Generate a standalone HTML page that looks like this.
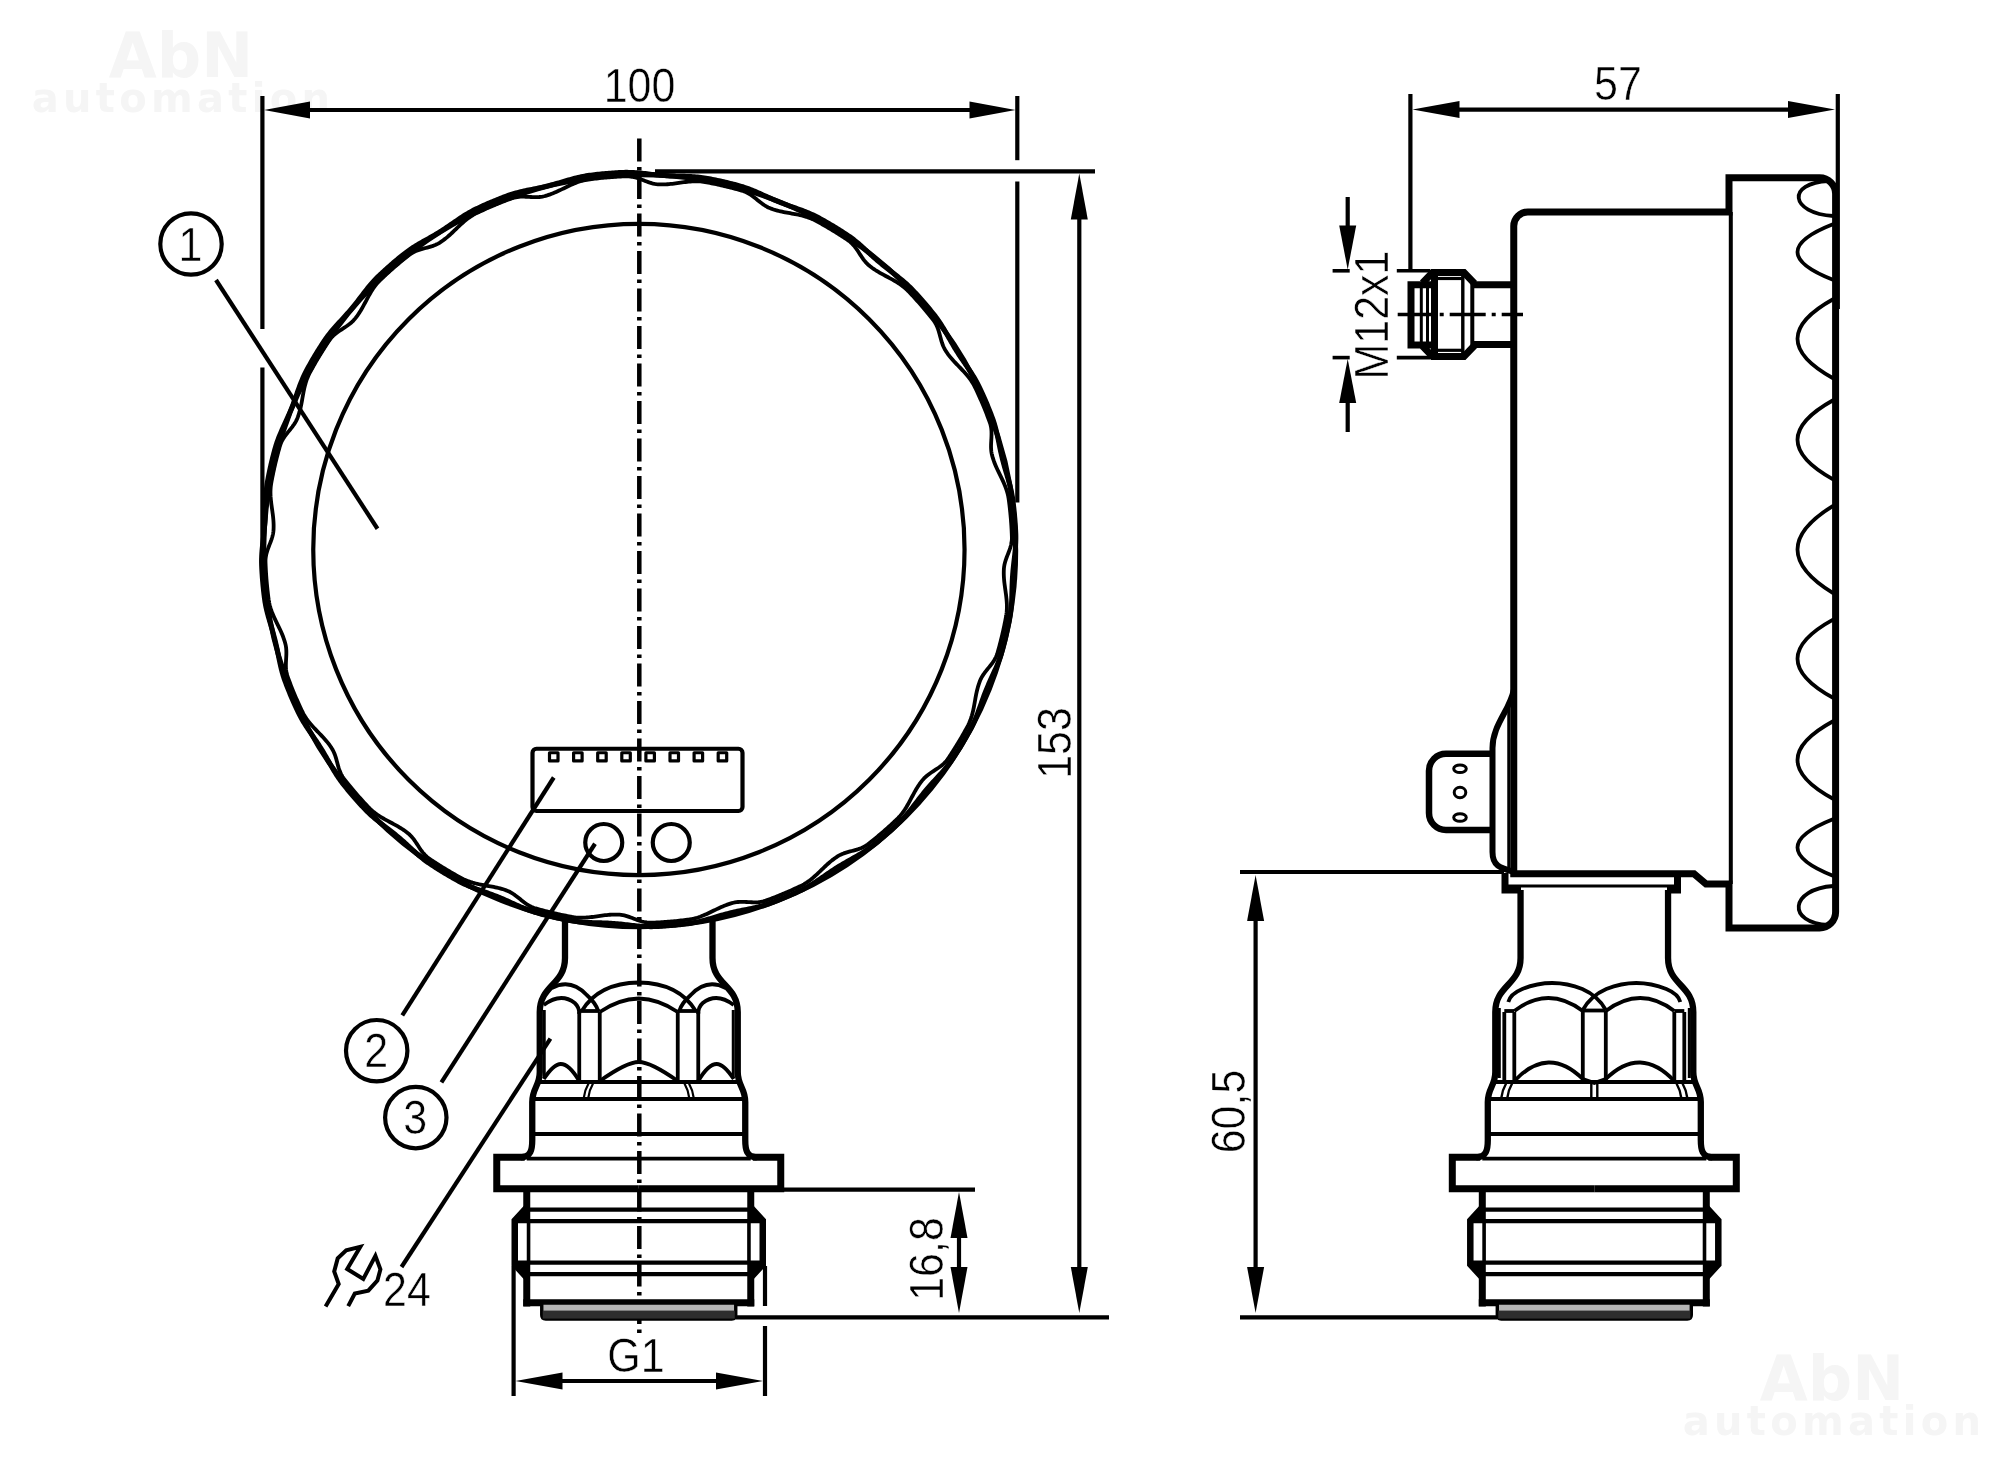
<!DOCTYPE html>
<html><head><meta charset="utf-8"><title>Drawing</title>
<style>
html,body{margin:0;padding:0;background:#fff;}
body{width:2000px;height:1463px;overflow:hidden;}
svg{display:block;font-family:"Liberation Sans",sans-serif;filter:grayscale(1) blur(0.55px);}
</style></head><body>
<svg width="2000" height="1463" viewBox="0 0 2000 1463" fill="none" stroke="#000" stroke-linecap="butt" stroke-linejoin="round">
<rect x="0" y="0" width="2000" height="1463" fill="#fff" stroke="none"/>
<text x="181" y="77" font-size="62" font-weight="bold" font-family="DejaVu Sans, sans-serif" text-anchor="middle" fill="#f5f5f5" stroke="none">AbN</text>
<text x="183" y="112" font-size="40" font-weight="bold" font-family="DejaVu Sans, sans-serif" text-anchor="middle" fill="#f5f5f5" stroke="none" letter-spacing="4.3">automation</text>
<text x="1832" y="1400" font-size="62" font-weight="bold" font-family="DejaVu Sans, sans-serif" text-anchor="middle" fill="#f5f5f5" stroke="none">AbN</text>
<text x="1834" y="1435" font-size="40" font-weight="bold" font-family="DejaVu Sans, sans-serif" text-anchor="middle" fill="#f5f5f5" stroke="none" letter-spacing="4.3">automation</text>
<line x1="639.30" y1="138.40" x2="639.30" y2="1338.00" stroke-width="4.5" stroke-dasharray="23 5.5 3.5 5.5"/>
<circle cx="638.90" cy="549.50" r="325.65" stroke-width="4.2" />
<circle cx="639.70" cy="550.80" r="376.00" stroke-width="5.0" />
<path d="M638.70,172.94 L640.34,173.09 L641.98,173.26 L643.62,173.43 L645.26,173.61 L646.90,173.80 L648.53,173.99 L650.17,174.18 L651.80,174.37 L653.43,174.55 L655.06,174.73 L656.69,174.90 L658.32,175.06 L659.95,175.22 L661.58,175.36 L663.21,175.49 L664.84,175.61 L666.48,175.72 L668.11,175.82 L669.74,175.90 L671.38,175.98 L673.02,176.04 L674.65,176.10 L676.29,176.15 L677.94,176.19 L679.58,176.24 L681.22,176.28 L682.87,176.32 L684.52,176.36 L686.16,176.41 L687.81,176.46 L689.46,176.53 L691.11,176.60 L692.75,176.69 L694.40,176.80 L696.04,176.93 L697.69,177.07 L699.33,177.23 L700.96,177.42 L702.60,177.63 L704.23,177.87 L705.85,178.13 L707.48,178.42 L709.09,178.72 L710.71,179.03 L712.33,179.35 L713.94,179.68 L715.55,180.01 L717.17,180.35 L718.78,180.69 L720.38,181.05 L721.99,181.41 L723.60,181.77 L725.20,182.15 L726.80,182.53 L728.40,182.92 L730.00,183.31 L731.60,183.71 L733.19,184.12 L734.79,184.54 L736.38,184.96 L737.97,185.39 L739.56,185.83 L741.14,186.28 L742.72,186.76 L744.28,187.26 L745.85,187.78 L747.40,188.33 L748.95,188.90 L750.48,189.49 L752.02,190.10 L753.54,190.73 L755.06,191.37 L756.58,192.02 L758.09,192.69 L759.59,193.36 L761.10,194.04 L762.59,194.72 L764.09,195.41 L765.59,196.09 L767.08,196.78 L768.58,197.46 L770.07,198.13 L771.57,198.80 L773.07,199.46 L774.57,200.10 L776.08,200.74 L777.59,201.37 L779.10,201.99 L780.62,202.60 L782.14,203.20 L783.67,203.78 L785.20,204.36 L786.74,204.93 L788.28,205.49 L789.83,206.04 L791.37,206.59 L792.92,207.14 L794.47,207.68 L796.03,208.23 L797.58,208.78 L799.13,209.33 L800.68,209.90 L802.23,210.47 L803.77,211.05 L805.31,211.64 L806.84,212.25 L808.37,212.88 L809.89,213.53 L811.40,214.19 L812.90,214.87 L814.38,215.58 L815.86,216.31 L817.33,217.06 L818.78,217.83 L820.23,218.62 L821.67,219.42 L823.11,220.22 L824.54,221.03 L825.97,221.84 L827.40,222.66 L828.82,223.49 L830.24,224.32 L831.66,225.16 L833.08,226.01 L834.49,226.86 L835.89,227.71 L837.29,228.58 L838.69,229.45 L840.09,230.32 L841.48,231.20 L842.86,232.09 L844.25,232.99 L845.63,233.89 L847.00,234.79 L848.37,235.71 L849.72,236.65 L851.06,237.61 L852.38,238.60 L853.69,239.60 L854.98,240.62 L856.26,241.66 L857.53,242.71 L858.79,243.78 L860.04,244.86 L861.28,245.95 L862.51,247.04 L863.73,248.15 L864.95,249.26 L866.16,250.37 L867.37,251.49 L868.59,252.60 L869.80,253.71 L871.01,254.82 L872.22,255.92 L873.44,257.02 L874.66,258.11 L875.89,259.19 L877.13,260.27 L878.37,261.33 L879.62,262.39 L880.87,263.43 L882.14,264.47 L883.41,265.50 L884.69,266.52 L885.97,267.54 L887.27,268.55 L888.56,269.55 L889.87,270.55 L891.17,271.55 L892.48,272.55 L893.79,273.55 L895.09,274.55 L896.40,275.56 L897.70,276.57 L898.99,277.59 L900.28,278.62 L901.56,279.67 L902.83,280.72 L904.09,281.79 L905.33,282.87 L906.56,283.97 L907.77,285.08 L908.97,286.21 L910.15,287.36 L911.31,288.53 L912.46,289.71 L913.59,290.91 L914.71,292.11 L915.83,293.32 L916.95,294.53 L918.06,295.75 L919.16,296.97 L920.26,298.20 L921.36,299.43 L922.44,300.66 L923.53,301.90 L924.61,303.15 L925.68,304.40 L926.74,305.65 L927.81,306.91 L928.86,308.18 L929.91,309.44 L930.96,310.72 L931.99,311.99 L933.03,313.28 L934.06,314.56 L935.07,315.86 L936.07,317.17 L937.04,318.50 L937.99,319.84 L938.93,321.20 L939.84,322.57 L940.74,323.95 L941.62,325.35 L942.49,326.75 L943.34,328.16 L944.19,329.58 L945.02,331.01 L945.84,332.44 L946.65,333.87 L947.47,335.30 L948.27,336.74 L949.08,338.17 L949.89,339.60 L950.70,341.03 L951.51,342.45 L952.33,343.87 L953.16,345.29 L953.99,346.70 L954.83,348.10 L955.69,349.50 L956.55,350.89 L957.42,352.27 L958.30,353.65 L959.19,355.02 L960.09,356.39 L961.00,357.75 L961.92,359.11 L962.84,360.46 L963.77,361.82 L964.71,363.17 L965.64,364.53 L966.57,365.88 L967.51,367.24 L968.44,368.60 L969.36,369.97 L970.28,371.34 L971.18,372.72 L972.08,374.10 L972.96,375.50 L973.83,376.90 L974.67,378.31 L975.50,379.74 L976.31,381.17 L977.10,382.62 L977.87,384.08 L978.61,385.54 L979.34,387.03 L980.04,388.51 L980.74,390.00 L981.43,391.50 L982.12,392.99 L982.80,394.49 L983.47,396.00 L984.14,397.50 L984.80,399.01 L985.45,400.52 L986.10,402.04 L986.74,403.56 L987.37,405.08 L988.00,406.60 L988.62,408.12 L989.23,409.65 L989.84,411.18 L990.44,412.72 L991.03,414.25 L991.62,415.79 L992.20,417.33 L992.76,418.88 L993.30,420.43 L993.82,422.00 L994.31,423.57 L994.78,425.15 L995.23,426.74 L995.66,428.33 L996.06,429.93 L996.46,431.53 L996.83,433.14 L997.19,434.75 L997.54,436.36 L997.88,437.97 L998.22,439.58 L998.54,441.20 L998.87,442.81 L999.19,444.43 L999.52,446.04 L999.85,447.65 L1000.18,449.25 L1000.52,450.86 L1000.87,452.46 L1001.23,454.05 L1001.60,455.65 L1001.98,457.24 L1002.37,458.83 L1002.77,460.41 L1003.18,462.00 L1003.60,463.58 L1004.04,465.15 L1004.48,466.73 L1004.93,468.31 L1005.39,469.88 L1005.86,471.46 L1006.33,473.03 L1006.80,474.61 L1007.27,476.19 L1007.74,477.77 L1008.20,479.35 L1008.66,480.93 L1009.10,482.52 L1009.54,484.11 L1009.96,485.71 L1010.37,487.30 L1010.76,488.91 L1011.13,490.51 L1011.48,492.12 L1011.81,493.74 L1012.11,495.36 L1012.39,496.98 L1012.64,498.61 L1012.87,500.24 L1013.08,501.87 L1013.29,503.51 L1013.48,505.14 L1013.67,506.78 L1013.86,508.41 L1014.03,510.05 L1014.20,511.69 L1014.36,513.33 L1014.52,514.97 L1014.66,516.61 L1014.80,518.25 L1014.94,519.89 L1015.06,521.53 L1015.18,523.17 L1015.29,524.82 L1015.40,526.46 L1015.49,528.10 L1015.58,529.75 L1015.67,531.39 L1015.74,533.04 L1015.80,534.68 L1015.83,536.33 L1015.84,537.98 L1015.82,539.62 L1015.78,541.27 L1015.72,542.92 L1015.63,544.57 L1015.52,546.21 L1015.40,547.86 L1015.26,549.50 L1015.11,551.14 L1014.94,552.78 L1014.77,554.42 L1014.59,556.06 L1014.40,557.70 L1014.21,559.33 L1014.02,560.97 L1013.83,562.60 L1013.65,564.23 L1013.47,565.86 L1013.30,567.49 L1013.14,569.12 L1012.98,570.75 L1012.84,572.38 L1012.71,574.01 L1012.59,575.64 L1012.48,577.28 L1012.38,578.91 L1012.30,580.54 L1012.22,582.18 L1012.16,583.82 L1012.10,585.45 L1012.05,587.09 L1012.01,588.74 L1011.96,590.38 L1011.92,592.02 L1011.88,593.67 L1011.84,595.32 L1011.79,596.96 L1011.74,598.61 L1011.67,600.26 L1011.60,601.91 L1011.51,603.55 L1011.40,605.20 L1011.27,606.84 L1011.13,608.49 L1010.97,610.13 L1010.78,611.76 L1010.57,613.40 L1010.33,615.03 L1010.07,616.65 L1009.78,618.28 L1009.48,619.89 L1009.17,621.51 L1008.85,623.13 L1008.52,624.74 L1008.19,626.35 L1007.85,627.97 L1007.51,629.58 L1007.15,631.18 L1006.79,632.79 L1006.43,634.40 L1006.05,636.00 L1005.67,637.60 L1005.28,639.20 L1004.89,640.80 L1004.49,642.40 L1004.08,643.99 L1003.66,645.59 L1003.24,647.18 L1002.81,648.77 L1002.37,650.36 L1001.92,651.94 L1001.44,653.52 L1000.94,655.08 L1000.42,656.65 L999.87,658.20 L999.30,659.75 L998.71,661.28 L998.10,662.82 L997.47,664.34 L996.83,665.86 L996.18,667.38 L995.51,668.89 L994.84,670.39 L994.16,671.90 L993.48,673.39 L992.79,674.89 L992.11,676.39 L991.42,677.88 L990.74,679.38 L990.07,680.87 L989.40,682.37 L988.74,683.87 L988.10,685.37 L987.46,686.88 L986.83,688.39 L986.21,689.90 L985.60,691.42 L985.00,692.94 L984.42,694.47 L983.84,696.00 L983.27,697.54 L982.71,699.08 L982.16,700.63 L981.61,702.17 L981.06,703.72 L980.52,705.27 L979.97,706.83 L979.42,708.38 L978.87,709.93 L978.30,711.48 L977.73,713.03 L977.15,714.57 L976.56,716.11 L975.95,717.64 L975.32,719.17 L974.67,720.69 L974.01,722.20 L973.33,723.70 L972.62,725.18 L971.89,726.66 L971.14,728.13 L970.37,729.58 L969.58,731.03 L968.78,732.47 L967.98,733.91 L967.17,735.34 L966.36,736.77 L965.54,738.20 L964.71,739.62 L963.88,741.04 L963.04,742.46 L962.19,743.88 L961.34,745.29 L960.49,746.69 L959.62,748.09 L958.75,749.49 L957.88,750.89 L957.00,752.28 L956.11,753.66 L955.21,755.05 L954.31,756.43 L953.41,757.80 L952.49,759.17 L951.55,760.52 L950.59,761.86 L949.60,763.18 L948.60,764.49 L947.58,765.78 L946.54,767.06 L945.49,768.33 L944.42,769.59 L943.34,770.84 L942.25,772.08 L941.16,773.31 L940.05,774.53 L938.94,775.75 L937.83,776.96 L936.71,778.17 L935.60,779.39 L934.49,780.60 L933.38,781.81 L932.28,783.02 L931.18,784.24 L930.09,785.46 L929.01,786.69 L927.93,787.93 L926.87,789.17 L925.81,790.42 L924.77,791.67 L923.73,792.94 L922.70,794.21 L921.68,795.49 L920.66,796.77 L919.65,798.07 L918.65,799.36 L917.65,800.67 L916.65,801.97 L915.65,803.28 L914.65,804.59 L913.65,805.89 L912.64,807.20 L911.63,808.50 L910.61,809.79 L909.58,811.08 L908.53,812.36 L907.48,813.63 L906.41,814.89 L905.33,816.13 L904.23,817.36 L903.12,818.57 L901.99,819.77 L900.84,820.95 L899.67,822.11 L898.49,823.26 L897.29,824.39 L896.09,825.51 L894.88,826.63 L893.67,827.75 L892.45,828.86 L891.23,829.96 L890.00,831.06 L888.77,832.16 L887.54,833.24 L886.30,834.33 L885.05,835.41 L883.80,836.48 L882.55,837.54 L881.29,838.61 L880.02,839.66 L878.76,840.71 L877.48,841.76 L876.21,842.79 L874.92,843.83 L873.64,844.86 L872.34,845.87 L871.03,846.87 L869.70,847.84 L868.36,848.79 L867.00,849.73 L865.63,850.64 L864.25,851.54 L862.85,852.42 L861.45,853.29 L860.04,854.14 L858.62,854.99 L857.19,855.82 L855.76,856.64 L854.33,857.45 L852.90,858.27 L851.46,859.07 L850.03,859.88 L848.60,860.69 L847.17,861.50 L845.75,862.31 L844.33,863.13 L842.91,863.96 L841.50,864.79 L840.10,865.63 L838.70,866.49 L837.31,867.35 L835.93,868.22 L834.55,869.10 L833.18,869.99 L831.81,870.89 L830.45,871.80 L829.09,872.72 L827.74,873.64 L826.38,874.57 L825.03,875.51 L823.67,876.44 L822.32,877.37 L820.96,878.31 L819.60,879.24 L818.23,880.16 L816.86,881.08 L815.48,881.98 L814.10,882.88 L812.70,883.76 L811.30,884.63 L809.89,885.47 L808.46,886.30 L807.03,887.11 L805.58,887.90 L804.12,888.67 L802.66,889.41 L801.17,890.14 L799.69,890.84 L798.20,891.54 L796.70,892.23 L795.21,892.92 L793.71,893.60 L792.20,894.27 L790.70,894.94 L789.19,895.60 L787.68,896.25 L786.16,896.90 L784.64,897.54 L783.12,898.17 L781.60,898.80 L780.08,899.42 L778.55,900.03 L777.02,900.64 L775.48,901.24 L773.95,901.83 L772.41,902.42 L770.87,903.00 L769.32,903.56 L767.77,904.10 L766.20,904.62 L764.63,905.11 L763.05,905.58 L761.46,906.03 L759.87,906.46 L758.27,906.86 L756.67,907.26 L755.06,907.63 L753.45,907.99 L751.84,908.34 L750.23,908.68 L748.62,909.02 L747.00,909.34 L745.39,909.67 L743.77,909.99 L742.16,910.32 L740.55,910.65 L738.95,910.98 L737.34,911.32 L735.74,911.67 L734.15,912.03 L732.55,912.40 L730.96,912.78 L729.37,913.17 L727.79,913.57 L726.20,913.98 L724.62,914.40 L723.05,914.84 L721.47,915.28 L719.89,915.73 L718.32,916.19 L716.74,916.66 L715.17,917.13 L713.59,917.60 L712.01,918.07 L710.43,918.54 L708.85,919.00 L707.27,919.46 L705.68,919.90 L704.09,920.34 L702.49,920.76 L700.90,921.17 L699.29,921.56 L697.69,921.93 L696.08,922.28 L694.46,922.61 L692.84,922.91 L691.22,923.19 L689.59,923.44 L687.96,923.67 L686.33,923.88 L684.69,924.09 L683.06,924.28 L681.42,924.47 L679.79,924.66 L678.15,924.83 L676.51,925.00 L674.87,925.16 L673.23,925.32 L671.59,925.46 L669.95,925.60 L668.31,925.74 L666.67,925.86 L665.03,925.98 L663.38,926.09 L661.74,926.20 L660.10,926.29 L658.45,926.38 L656.81,926.47 L655.16,926.54 L653.52,926.60 L651.87,926.63 L650.22,926.64 L648.58,926.62 L646.93,926.58 L645.28,926.52 L643.63,926.43 L641.99,926.32 L640.34,926.20 L638.70,926.06 L637.06,925.91 L635.42,925.74 L633.78,925.57 L632.14,925.39 L630.50,925.20 L628.87,925.01 L627.23,924.82 L625.60,924.63 L623.97,924.45 L622.34,924.27 L620.71,924.10 L619.08,923.94 L617.45,923.78 L615.82,923.64 L614.19,923.51 L612.56,923.39 L610.92,923.28 L609.29,923.18 L607.66,923.10 L606.02,923.02 L604.38,922.96 L602.75,922.90 L601.11,922.85 L599.46,922.81 L597.82,922.76 L596.18,922.72 L594.53,922.68 L592.88,922.64 L591.24,922.59 L589.59,922.54 L587.94,922.47 L586.29,922.40 L584.65,922.31 L583.00,922.20 L581.36,922.07 L579.71,921.93 L578.07,921.77 L576.44,921.58 L574.80,921.37 L573.17,921.13 L571.55,920.87 L569.92,920.58 L568.31,920.28 L566.69,919.97 L565.07,919.65 L563.46,919.32 L561.85,918.99 L560.23,918.65 L558.62,918.31 L557.02,917.95 L555.41,917.59 L553.80,917.23 L552.20,916.85 L550.60,916.47 L549.00,916.08 L547.40,915.69 L545.80,915.29 L544.21,914.88 L542.61,914.46 L541.02,914.04 L539.43,913.61 L537.84,913.17 L536.26,912.72 L534.68,912.24 L533.12,911.74 L531.55,911.22 L530.00,910.67 L528.45,910.10 L526.92,909.51 L525.38,908.90 L523.86,908.27 L522.34,907.63 L520.82,906.98 L519.31,906.31 L517.81,905.64 L516.30,904.96 L514.81,904.28 L513.31,903.59 L511.81,902.91 L510.32,902.22 L508.82,901.54 L507.33,900.87 L505.83,900.20 L504.33,899.54 L502.83,898.90 L501.32,898.26 L499.81,897.63 L498.30,897.01 L496.78,896.40 L495.26,895.80 L493.73,895.22 L492.20,894.64 L490.66,894.07 L489.12,893.51 L487.57,892.96 L486.03,892.41 L484.48,891.86 L482.93,891.32 L481.37,890.77 L479.82,890.22 L478.27,889.67 L476.72,889.10 L475.17,888.53 L473.63,887.95 L472.09,887.36 L470.56,886.75 L469.03,886.12 L467.51,885.47 L466.00,884.81 L464.50,884.13 L463.02,883.42 L461.54,882.69 L460.07,881.94 L458.62,881.17 L457.17,880.38 L455.73,879.58 L454.29,878.78 L452.86,877.97 L451.43,877.16 L450.00,876.34 L448.58,875.51 L447.16,874.68 L445.74,873.84 L444.32,872.99 L442.91,872.14 L441.51,871.29 L440.11,870.42 L438.71,869.55 L437.31,868.68 L435.92,867.80 L434.54,866.91 L433.15,866.01 L431.77,865.11 L430.40,864.21 L429.03,863.29 L427.68,862.35 L426.34,861.39 L425.02,860.40 L423.71,859.40 L422.42,858.38 L421.14,857.34 L419.87,856.29 L418.61,855.22 L417.36,854.14 L416.12,853.05 L414.89,851.96 L413.67,850.85 L412.45,849.74 L411.24,848.63 L410.03,847.51 L408.81,846.40 L407.60,845.29 L406.39,844.18 L405.18,843.08 L403.96,841.98 L402.74,840.89 L401.51,839.81 L400.27,838.73 L399.03,837.67 L397.78,836.61 L396.53,835.57 L395.26,834.53 L393.99,833.50 L392.71,832.48 L391.43,831.46 L390.13,830.45 L388.84,829.45 L387.53,828.45 L386.23,827.45 L384.92,826.45 L383.61,825.45 L382.31,824.45 L381.00,823.44 L379.70,822.43 L378.41,821.41 L377.12,820.38 L375.84,819.33 L374.57,818.28 L373.31,817.21 L372.07,816.13 L370.84,815.03 L369.63,813.92 L368.43,812.79 L367.25,811.64 L366.09,810.47 L364.94,809.29 L363.81,808.09 L362.69,806.89 L361.57,805.68 L360.45,804.47 L359.34,803.25 L358.24,802.03 L357.14,800.80 L356.04,799.57 L354.96,798.34 L353.87,797.10 L352.79,795.85 L351.72,794.60 L350.66,793.35 L349.59,792.09 L348.54,790.82 L347.49,789.56 L346.44,788.28 L345.41,787.01 L344.37,785.72 L343.34,784.44 L342.33,783.14 L341.33,781.83 L340.36,780.50 L339.41,779.16 L338.47,777.80 L337.56,776.43 L336.66,775.05 L335.78,773.65 L334.91,772.25 L334.06,770.84 L333.21,769.42 L332.38,767.99 L331.56,766.56 L330.75,765.13 L329.93,763.70 L329.13,762.26 L328.32,760.83 L327.51,759.40 L326.70,757.97 L325.89,756.55 L325.07,755.13 L324.24,753.71 L323.41,752.30 L322.57,750.90 L321.71,749.50 L320.85,748.11 L319.98,746.73 L319.10,745.35 L318.21,743.98 L317.31,742.61 L316.40,741.25 L315.48,739.89 L314.56,738.54 L313.63,737.18 L312.69,735.83 L311.76,734.47 L310.83,733.12 L309.89,731.76 L308.96,730.40 L308.04,729.03 L307.12,727.66 L306.22,726.28 L305.32,724.90 L304.44,723.50 L303.57,722.10 L302.73,720.69 L301.90,719.26 L301.09,717.83 L300.30,716.38 L299.53,714.92 L298.79,713.46 L298.06,711.97 L297.36,710.49 L296.66,709.00 L295.97,707.50 L295.28,706.01 L294.60,704.51 L293.93,703.00 L293.26,701.50 L292.60,699.99 L291.95,698.48 L291.30,696.96 L290.66,695.44 L290.03,693.92 L289.40,692.40 L288.78,690.88 L288.17,689.35 L287.56,687.82 L286.96,686.28 L286.37,684.75 L285.78,683.21 L285.20,681.67 L284.64,680.12 L284.10,678.57 L283.58,677.00 L283.09,675.43 L282.62,673.85 L282.17,672.26 L281.74,670.67 L281.34,669.07 L280.94,667.47 L280.57,665.86 L280.21,664.25 L279.86,662.64 L279.52,661.03 L279.18,659.42 L278.86,657.80 L278.53,656.19 L278.21,654.57 L277.88,652.96 L277.55,651.35 L277.22,649.75 L276.88,648.14 L276.53,646.54 L276.17,644.95 L275.80,643.35 L275.42,641.76 L275.03,640.17 L274.63,638.59 L274.22,637.00 L273.80,635.42 L273.36,633.85 L272.92,632.27 L272.47,630.69 L272.01,629.12 L271.54,627.54 L271.07,625.97 L270.60,624.39 L270.13,622.81 L269.66,621.23 L269.20,619.65 L268.74,618.07 L268.30,616.48 L267.86,614.89 L267.44,613.29 L267.03,611.70 L266.64,610.09 L266.27,608.49 L265.92,606.88 L265.59,605.26 L265.29,603.64 L265.01,602.02 L264.76,600.39 L264.53,598.76 L264.32,597.13 L264.11,595.49 L263.92,593.86 L263.73,592.22 L263.54,590.59 L263.37,588.95 L263.20,587.31 L263.04,585.67 L262.88,584.03 L262.74,582.39 L262.60,580.75 L262.46,579.11 L262.34,577.47 L262.22,575.83 L262.11,574.18 L262.00,572.54 L261.91,570.90 L261.82,569.25 L261.73,567.61 L261.66,565.96 L261.60,564.32 L261.57,562.67 L261.56,561.02 L261.58,559.38 L261.62,557.73 L261.68,556.08 L261.77,554.43 L261.88,552.79 L262.00,551.14 L262.14,549.50 L262.29,547.86 L262.46,546.22 L262.63,544.58 L262.81,542.94 L263.00,541.30 L263.19,539.67 L263.38,538.03 L263.57,536.40 L263.75,534.77 L263.93,533.14 L264.10,531.51 L264.26,529.88 L264.42,528.25 L264.56,526.62 L264.69,524.99 L264.81,523.36 L264.92,521.72 L265.02,520.09 L265.10,518.46 L265.18,516.82 L265.24,515.18 L265.30,513.55 L265.35,511.91 L265.39,510.26 L265.44,508.62 L265.48,506.98 L265.52,505.33 L265.56,503.68 L265.61,502.04 L265.66,500.39 L265.73,498.74 L265.80,497.09 L265.89,495.45 L266.00,493.80 L266.13,492.16 L266.27,490.51 L266.43,488.87 L266.62,487.24 L266.83,485.60 L267.07,483.97 L267.33,482.35 L267.62,480.72 L267.92,479.11 L268.23,477.49 L268.55,475.87 L268.88,474.26 L269.21,472.65 L269.55,471.03 L269.89,469.42 L270.25,467.82 L270.61,466.21 L270.97,464.60 L271.35,463.00 L271.73,461.40 L272.12,459.80 L272.51,458.20 L272.91,456.60 L273.32,455.01 L273.74,453.41 L274.16,451.82 L274.59,450.23 L275.03,448.64 L275.48,447.06 L275.96,445.48 L276.46,443.92 L276.98,442.35 L277.53,440.80 L278.10,439.25 L278.69,437.72 L279.30,436.18 L279.93,434.66 L280.57,433.14 L281.22,431.62 L281.89,430.11 L282.56,428.61 L283.24,427.10 L283.92,425.61 L284.61,424.11 L285.29,422.61 L285.98,421.12 L286.66,419.62 L287.33,418.13 L288.00,416.63 L288.66,415.13 L289.30,413.63 L289.94,412.12 L290.57,410.61 L291.19,409.10 L291.80,407.58 L292.40,406.06 L292.98,404.53 L293.56,403.00 L294.13,401.46 L294.69,399.92 L295.24,398.37 L295.79,396.83 L296.34,395.28 L296.88,393.73 L297.43,392.17 L297.98,390.62 L298.53,389.07 L299.10,387.52 L299.67,385.97 L300.25,384.43 L300.84,382.89 L301.45,381.36 L302.08,379.83 L302.73,378.31 L303.39,376.80 L304.07,375.30 L304.78,373.82 L305.51,372.34 L306.26,370.87 L307.03,369.42 L307.82,367.97 L308.62,366.53 L309.42,365.09 L310.23,363.66 L311.04,362.23 L311.86,360.80 L312.69,359.38 L313.52,357.96 L314.36,356.54 L315.21,355.12 L316.06,353.71 L316.91,352.31 L317.78,350.91 L318.65,349.51 L319.52,348.11 L320.40,346.72 L321.29,345.34 L322.19,343.95 L323.09,342.57 L323.99,341.20 L324.91,339.83 L325.85,338.48 L326.81,337.14 L327.80,335.82 L328.80,334.51 L329.82,333.22 L330.86,331.94 L331.91,330.67 L332.98,329.41 L334.06,328.16 L335.15,326.92 L336.24,325.69 L337.35,324.47 L338.46,323.25 L339.57,322.04 L340.69,320.83 L341.80,319.61 L342.91,318.40 L344.02,317.19 L345.12,315.98 L346.22,314.76 L347.31,313.54 L348.39,312.31 L349.47,311.07 L350.53,309.83 L351.59,308.58 L352.63,307.33 L353.67,306.06 L354.70,304.79 L355.72,303.51 L356.74,302.23 L357.75,300.93 L358.75,299.64 L359.75,298.33 L360.75,297.03 L361.75,295.72 L362.75,294.41 L363.75,293.11 L364.76,291.80 L365.77,290.50 L366.79,289.21 L367.82,287.92 L368.87,286.64 L369.92,285.37 L370.99,284.11 L372.07,282.87 L373.17,281.64 L374.28,280.43 L375.41,279.23 L376.56,278.05 L377.73,276.89 L378.91,275.74 L380.11,274.61 L381.31,273.49 L382.52,272.37 L383.73,271.25 L384.95,270.14 L386.17,269.04 L387.40,267.94 L388.63,266.84 L389.86,265.76 L391.10,264.67 L392.35,263.59 L393.60,262.52 L394.85,261.46 L396.11,260.39 L397.38,259.34 L398.64,258.29 L399.92,257.24 L401.19,256.21 L402.48,255.17 L403.76,254.14 L405.06,253.13 L406.37,252.13 L407.70,251.16 L409.04,250.21 L410.40,249.27 L411.77,248.36 L413.15,247.46 L414.55,246.58 L415.95,245.71 L417.36,244.86 L418.78,244.01 L420.21,243.18 L421.64,242.36 L423.07,241.55 L424.50,240.73 L425.94,239.93 L427.37,239.12 L428.80,238.31 L430.23,237.50 L431.65,236.69 L433.07,235.87 L434.49,235.04 L435.90,234.21 L437.30,233.37 L438.70,232.51 L440.09,231.65 L441.47,230.78 L442.85,229.90 L444.22,229.01 L445.59,228.11 L446.95,227.20 L448.31,226.28 L449.66,225.36 L451.02,224.43 L452.37,223.49 L453.73,222.56 L455.08,221.63 L456.44,220.69 L457.80,219.76 L459.17,218.84 L460.54,217.92 L461.92,217.02 L463.30,216.12 L464.70,215.24 L466.10,214.37 L467.51,213.53 L468.94,212.70 L470.37,211.89 L471.82,211.10 L473.28,210.33 L474.74,209.59 L476.23,208.86 L477.71,208.16 L479.20,207.46 L480.70,206.77 L482.19,206.08 L483.69,205.40 L485.20,204.73 L486.70,204.06 L488.21,203.40 L489.72,202.75 L491.24,202.10 L492.76,201.46 L494.28,200.83 L495.80,200.20 L497.32,199.58 L498.85,198.97 L500.38,198.36 L501.92,197.76 L503.45,197.17 L504.99,196.58 L506.53,196.00 L508.08,195.44 L509.63,194.90 L511.20,194.38 L512.77,193.89 L514.35,193.42 L515.94,192.97 L517.53,192.54 L519.13,192.14 L520.73,191.74 L522.34,191.37 L523.95,191.01 L525.56,190.66 L527.17,190.32 L528.78,189.98 L530.40,189.66 L532.01,189.33 L533.63,189.01 L535.24,188.68 L536.85,188.35 L538.45,188.02 L540.06,187.68 L541.66,187.33 L543.25,186.97 L544.85,186.60 L546.44,186.22 L548.03,185.83 L549.61,185.43 L551.20,185.02 L552.78,184.60 L554.35,184.16 L555.93,183.72 L557.51,183.27 L559.08,182.81 L560.66,182.34 L562.23,181.87 L563.81,181.40 L565.39,180.93 L566.97,180.46 L568.55,180.00 L570.13,179.54 L571.72,179.10 L573.31,178.66 L574.91,178.24 L576.50,177.83 L578.11,177.44 L579.71,177.07 L581.32,176.72 L582.94,176.39 L584.56,176.09 L586.18,175.81 L587.81,175.56 L589.44,175.33 L591.07,175.12 L592.71,174.91 L594.34,174.72 L595.98,174.53 L597.61,174.34 L599.25,174.17 L600.89,174.00 L602.53,173.84 L604.17,173.68 L605.81,173.54 L607.45,173.40 L609.09,173.26 L610.73,173.14 L612.37,173.02 L614.02,172.91 L615.66,172.80 L617.30,172.71 L618.95,172.62 L620.59,172.53 L622.24,172.46 L623.88,172.40 L625.53,172.37 L627.18,172.36 L628.82,172.38 L630.47,172.42 L632.12,172.48 L633.77,172.57 L635.41,172.68 L637.06,172.80 L638.70,172.94 Z" stroke-width="5.0" />
<path d="M638.70,178.53 L640.32,179.11 L641.93,179.72 L643.53,180.34 L645.13,180.96 L646.73,181.57 L648.32,182.14 L649.91,182.67 L651.49,183.14 L653.08,183.55 L654.66,183.88 L656.25,184.13 L657.84,184.29 L659.43,184.38 L661.03,184.42 L662.63,184.43 L664.23,184.40 L665.84,184.33 L667.45,184.23 L669.06,184.10 L670.68,183.95 L672.31,183.77 L673.94,183.57 L675.57,183.35 L677.21,183.13 L678.85,182.89 L680.50,182.66 L682.15,182.43 L683.80,182.21 L685.45,182.00 L687.11,181.81 L688.76,181.64 L690.42,181.50 L692.07,181.39 L693.73,181.32 L695.37,181.28 L697.02,181.29 L698.66,181.35 L700.29,181.45 L701.92,181.60 L703.53,181.81 L705.14,182.06 L706.75,182.35 L708.35,182.65 L709.95,182.96 L711.55,183.27 L713.14,183.60 L714.74,183.92 L716.33,184.26 L717.93,184.60 L719.52,184.95 L721.11,185.31 L722.70,185.67 L724.28,186.04 L725.87,186.42 L727.45,186.80 L729.03,187.19 L730.61,187.59 L732.19,187.99 L733.77,188.41 L735.34,188.82 L736.92,189.25 L738.49,189.68 L740.06,190.12 L741.62,190.56 L743.18,191.03 L744.72,191.59 L746.22,192.25 L747.70,192.99 L749.14,193.81 L750.56,194.71 L751.96,195.68 L753.34,196.69 L754.69,197.74 L756.04,198.82 L757.37,199.91 L758.70,200.99 L760.03,202.06 L761.37,203.09 L762.72,204.08 L764.08,205.02 L765.46,205.90 L766.87,206.71 L768.30,207.43 L769.76,208.08 L771.25,208.66 L772.75,209.19 L774.27,209.69 L775.80,210.16 L777.35,210.59 L778.91,210.99 L780.49,211.37 L782.08,211.72 L783.68,212.05 L785.29,212.37 L786.91,212.67 L788.54,212.96 L790.17,213.24 L791.81,213.53 L793.45,213.82 L795.09,214.12 L796.73,214.43 L798.36,214.76 L799.99,215.11 L801.61,215.49 L803.21,215.90 L804.81,216.34 L806.39,216.82 L807.95,217.34 L809.49,217.89 L811.01,218.50 L812.51,219.14 L813.99,219.84 L815.44,220.58 L816.87,221.35 L818.30,222.13 L819.73,222.92 L821.15,223.71 L822.57,224.51 L823.99,225.31 L825.40,226.13 L826.81,226.94 L828.21,227.77 L829.62,228.60 L831.02,229.43 L832.41,230.28 L833.80,231.12 L835.19,231.98 L836.57,232.84 L837.95,233.71 L839.33,234.58 L840.70,235.46 L842.07,236.34 L843.43,237.23 L844.79,238.13 L846.15,239.03 L847.50,239.94 L848.84,240.87 L850.13,241.87 L851.36,242.96 L852.53,244.12 L853.65,245.35 L854.72,246.65 L855.75,247.99 L856.75,249.38 L857.72,250.80 L858.66,252.24 L859.59,253.69 L860.52,255.13 L861.46,256.55 L862.41,257.95 L863.39,259.31 L864.39,260.63 L865.43,261.89 L866.52,263.09 L867.66,264.22 L868.85,265.29 L870.09,266.30 L871.35,267.27 L872.64,268.22 L873.96,269.13 L875.29,270.02 L876.66,270.89 L878.04,271.73 L879.44,272.56 L880.86,273.37 L882.30,274.17 L883.74,274.95 L885.20,275.73 L886.67,276.51 L888.14,277.29 L889.61,278.07 L891.08,278.86 L892.54,279.66 L893.99,280.48 L895.43,281.32 L896.85,282.18 L898.25,283.06 L899.63,283.98 L900.98,284.92 L902.31,285.89 L903.60,286.90 L904.86,287.94 L906.09,289.02 L907.28,290.14 L908.43,291.29 L909.55,292.47 L910.67,293.65 L911.79,294.84 L912.90,296.04 L914.00,297.23 L915.10,298.44 L916.19,299.65 L917.28,300.86 L918.36,302.08 L919.44,303.30 L920.51,304.53 L921.57,305.76 L922.64,307.00 L923.69,308.24 L924.74,309.48 L925.79,310.73 L926.82,311.99 L927.86,313.25 L928.89,314.51 L929.91,315.78 L930.93,317.05 L931.94,318.33 L932.94,319.61 L933.93,320.91 L934.84,322.26 L935.68,323.67 L936.43,325.14 L937.12,326.66 L937.74,328.22 L938.30,329.82 L938.82,331.45 L939.30,333.10 L939.75,334.76 L940.19,336.43 L940.63,338.08 L941.08,339.73 L941.56,341.35 L942.06,342.95 L942.61,344.51 L943.21,346.03 L943.88,347.51 L944.61,348.94 L945.41,350.32 L946.27,351.66 L947.18,352.98 L948.11,354.28 L949.08,355.55 L950.08,356.81 L951.10,358.06 L952.16,359.29 L953.24,360.51 L954.34,361.72 L955.46,362.92 L956.59,364.11 L957.74,365.30 L958.89,366.50 L960.05,367.69 L961.20,368.89 L962.36,370.09 L963.50,371.31 L964.62,372.54 L965.73,373.78 L966.82,375.04 L967.88,376.31 L968.91,377.60 L969.91,378.92 L970.86,380.25 L971.78,381.61 L972.66,382.99 L973.49,384.40 L974.28,385.83 L975.02,387.28 L975.73,388.75 L976.42,390.22 L977.12,391.69 L977.80,393.17 L978.48,394.65 L979.15,396.14 L979.82,397.62 L980.48,399.11 L981.13,400.61 L981.78,402.10 L982.42,403.60 L983.05,405.10 L983.68,406.61 L984.30,408.11 L984.91,409.62 L985.52,411.13 L986.12,412.65 L986.71,414.17 L987.30,415.69 L987.88,417.21 L988.45,418.73 L989.02,420.26 L989.58,421.79 L990.12,423.33 L990.57,424.90 L990.92,426.50 L991.19,428.13 L991.37,429.78 L991.48,431.46 L991.52,433.16 L991.51,434.86 L991.46,436.58 L991.38,438.30 L991.28,440.02 L991.19,441.73 L991.11,443.44 L991.05,445.13 L991.04,446.80 L991.08,448.46 L991.19,450.09 L991.36,451.70 L991.61,453.29 L991.95,454.85 L992.36,456.39 L992.81,457.92 L993.30,459.44 L993.82,460.96 L994.38,462.47 L994.97,463.97 L995.59,465.46 L996.24,466.95 L996.92,468.44 L997.61,469.93 L998.32,471.42 L999.04,472.91 L999.77,474.40 L1000.50,475.89 L1001.23,477.39 L1001.95,478.89 L1002.66,480.40 L1003.36,481.91 L1004.03,483.44 L1004.67,484.97 L1005.29,486.51 L1005.87,488.06 L1006.41,489.61 L1006.91,491.18 L1007.36,492.76 L1007.77,494.34 L1008.13,495.94 L1008.43,497.54 L1008.69,499.15 L1008.91,500.76 L1009.11,502.38 L1009.32,503.99 L1009.51,505.61 L1009.70,507.23 L1009.88,508.85 L1010.05,510.47 L1010.22,512.09 L1010.38,513.71 L1010.53,515.33 L1010.68,516.96 L1010.82,518.58 L1010.95,520.20 L1011.07,521.83 L1011.19,523.45 L1011.30,525.08 L1011.40,526.70 L1011.50,528.33 L1011.59,529.96 L1011.67,531.58 L1011.74,533.21 L1011.81,534.84 L1011.87,536.47 L1011.91,538.10 L1011.85,539.73 L1011.69,541.36 L1011.44,542.99 L1011.11,544.62 L1010.69,546.25 L1010.21,547.88 L1009.67,549.50 L1009.09,551.12 L1008.48,552.73 L1007.86,554.33 L1007.24,555.93 L1006.63,557.53 L1006.06,559.12 L1005.53,560.71 L1005.06,562.29 L1004.65,563.88 L1004.32,565.46 L1004.07,567.05 L1003.91,568.64 L1003.82,570.23 L1003.78,571.83 L1003.77,573.43 L1003.80,575.03 L1003.87,576.64 L1003.97,578.25 L1004.10,579.86 L1004.25,581.48 L1004.43,583.11 L1004.63,584.74 L1004.85,586.37 L1005.07,588.01 L1005.31,589.65 L1005.54,591.30 L1005.77,592.95 L1005.99,594.60 L1006.20,596.25 L1006.39,597.91 L1006.56,599.56 L1006.70,601.22 L1006.81,602.87 L1006.88,604.53 L1006.92,606.17 L1006.91,607.82 L1006.85,609.46 L1006.75,611.09 L1006.60,612.72 L1006.39,614.33 L1006.14,615.94 L1005.85,617.55 L1005.55,619.15 L1005.24,620.75 L1004.93,622.35 L1004.60,623.94 L1004.28,625.54 L1003.94,627.13 L1003.60,628.73 L1003.25,630.32 L1002.89,631.91 L1002.53,633.50 L1002.16,635.08 L1001.78,636.67 L1001.40,638.25 L1001.01,639.83 L1000.61,641.41 L1000.21,642.99 L999.79,644.57 L999.38,646.14 L998.95,647.72 L998.52,649.29 L998.08,650.86 L997.64,652.42 L997.17,653.98 L996.61,655.52 L995.95,657.02 L995.21,658.50 L994.39,659.94 L993.49,661.36 L992.52,662.76 L991.51,664.14 L990.46,665.49 L989.38,666.84 L988.29,668.17 L987.21,669.50 L986.14,670.83 L985.11,672.17 L984.12,673.52 L983.18,674.88 L982.30,676.26 L981.49,677.67 L980.77,679.10 L980.12,680.56 L979.54,682.05 L979.01,683.55 L978.51,685.07 L978.04,686.60 L977.61,688.15 L977.21,689.71 L976.83,691.29 L976.48,692.88 L976.15,694.48 L975.83,696.09 L975.53,697.71 L975.24,699.34 L974.96,700.97 L974.67,702.61 L974.38,704.25 L974.08,705.89 L973.77,707.53 L973.44,709.16 L973.09,710.79 L972.71,712.41 L972.30,714.01 L971.86,715.61 L971.38,717.19 L970.86,718.75 L970.31,720.29 L969.70,721.81 L969.06,723.31 L968.36,724.79 L967.62,726.24 L966.85,727.67 L966.07,729.10 L965.28,730.53 L964.49,731.95 L963.69,733.37 L962.89,734.79 L962.07,736.20 L961.26,737.61 L960.43,739.01 L959.60,740.42 L958.77,741.82 L957.92,743.21 L957.08,744.60 L956.22,745.99 L955.36,747.37 L954.49,748.75 L953.62,750.13 L952.74,751.50 L951.86,752.87 L950.97,754.23 L950.07,755.59 L949.17,756.95 L948.26,758.30 L947.33,759.64 L946.33,760.93 L945.24,762.16 L944.08,763.33 L942.85,764.45 L941.55,765.52 L940.21,766.55 L938.82,767.55 L937.40,768.52 L935.96,769.46 L934.51,770.39 L933.07,771.32 L931.65,772.26 L930.25,773.21 L928.89,774.19 L927.57,775.19 L926.31,776.23 L925.11,777.32 L923.98,778.46 L922.91,779.65 L921.90,780.89 L920.93,782.15 L919.98,783.44 L919.07,784.76 L918.18,786.09 L917.31,787.46 L916.47,788.84 L915.64,790.24 L914.83,791.66 L914.03,793.10 L913.25,794.54 L912.47,796.00 L911.69,797.47 L910.91,798.94 L910.13,800.41 L909.34,801.88 L908.54,803.34 L907.72,804.79 L906.88,806.23 L906.02,807.65 L905.14,809.05 L904.22,810.43 L903.28,811.78 L902.31,813.11 L901.30,814.40 L900.26,815.66 L899.18,816.89 L898.06,818.08 L896.91,819.23 L895.73,820.35 L894.55,821.47 L893.36,822.59 L892.16,823.70 L890.97,824.80 L889.76,825.90 L888.55,826.99 L887.34,828.08 L886.12,829.16 L884.90,830.24 L883.67,831.31 L882.44,832.37 L881.20,833.44 L879.96,834.49 L878.72,835.54 L877.47,836.59 L876.21,837.62 L874.95,838.66 L873.69,839.69 L872.42,840.71 L871.15,841.73 L869.87,842.74 L868.59,843.74 L867.29,844.73 L865.94,845.64 L864.53,846.48 L863.06,847.23 L861.54,847.92 L859.98,848.54 L858.38,849.10 L856.75,849.62 L855.10,850.10 L853.44,850.55 L851.77,850.99 L850.12,851.43 L848.47,851.88 L846.85,852.36 L845.25,852.86 L843.69,853.41 L842.17,854.01 L840.69,854.68 L839.26,855.41 L837.88,856.21 L836.54,857.07 L835.22,857.98 L833.92,858.91 L832.65,859.88 L831.39,860.88 L830.14,861.90 L828.91,862.96 L827.69,864.04 L826.48,865.14 L825.28,866.26 L824.09,867.39 L822.90,868.54 L821.70,869.69 L820.51,870.85 L819.31,872.00 L818.11,873.16 L816.89,874.30 L815.66,875.42 L814.42,876.53 L813.16,877.62 L811.89,878.68 L810.60,879.71 L809.28,880.71 L807.95,881.66 L806.59,882.58 L805.21,883.46 L803.80,884.29 L802.37,885.08 L800.92,885.82 L799.45,886.53 L797.98,887.22 L796.51,887.92 L795.03,888.60 L793.55,889.28 L792.06,889.95 L790.58,890.62 L789.09,891.28 L787.59,891.93 L786.10,892.58 L784.60,893.22 L783.10,893.85 L781.59,894.48 L780.09,895.10 L778.58,895.71 L777.07,896.32 L775.55,896.92 L774.03,897.51 L772.51,898.10 L770.99,898.68 L769.47,899.25 L767.94,899.82 L766.41,900.38 L764.87,900.92 L763.30,901.37 L761.70,901.72 L760.07,901.99 L758.42,902.17 L756.74,902.28 L755.04,902.32 L753.34,902.31 L751.62,902.26 L749.90,902.18 L748.18,902.08 L746.47,901.99 L744.76,901.91 L743.07,901.85 L741.40,901.84 L739.74,901.88 L738.11,901.99 L736.50,902.16 L734.91,902.41 L733.35,902.75 L731.81,903.16 L730.28,903.61 L728.76,904.10 L727.24,904.62 L725.73,905.18 L724.23,905.77 L722.74,906.39 L721.25,907.04 L719.76,907.72 L718.27,908.41 L716.78,909.12 L715.29,909.84 L713.80,910.57 L712.31,911.30 L710.81,912.03 L709.31,912.75 L707.80,913.46 L706.29,914.16 L704.76,914.83 L703.23,915.47 L701.69,916.09 L700.14,916.67 L698.59,917.21 L697.02,917.71 L695.44,918.16 L693.86,918.57 L692.26,918.93 L690.66,919.23 L689.05,919.49 L687.44,919.71 L685.82,919.91 L684.21,920.12 L682.59,920.31 L680.97,920.50 L679.35,920.68 L677.73,920.85 L676.11,921.02 L674.49,921.18 L672.87,921.33 L671.24,921.48 L669.62,921.62 L668.00,921.75 L666.37,921.87 L664.75,921.99 L663.12,922.10 L661.50,922.20 L659.87,922.30 L658.24,922.39 L656.62,922.47 L654.99,922.54 L653.36,922.61 L651.73,922.67 L650.10,922.71 L648.47,922.65 L646.84,922.49 L645.21,922.24 L643.58,921.91 L641.95,921.49 L640.32,921.01 L638.70,920.47 L637.08,919.89 L635.47,919.28 L633.87,918.66 L632.27,918.04 L630.67,917.43 L629.08,916.86 L627.49,916.33 L625.91,915.86 L624.32,915.45 L622.74,915.12 L621.15,914.87 L619.56,914.71 L617.97,914.62 L616.37,914.58 L614.77,914.57 L613.17,914.60 L611.56,914.67 L609.95,914.77 L608.34,914.90 L606.72,915.05 L605.09,915.23 L603.46,915.43 L601.83,915.65 L600.19,915.87 L598.55,916.11 L596.90,916.34 L595.25,916.57 L593.60,916.79 L591.95,917.00 L590.29,917.19 L588.64,917.36 L586.98,917.50 L585.33,917.61 L583.67,917.68 L582.03,917.72 L580.38,917.71 L578.74,917.65 L577.11,917.55 L575.48,917.40 L573.87,917.19 L572.26,916.94 L570.65,916.65 L569.05,916.35 L567.45,916.04 L565.85,915.73 L564.26,915.40 L562.66,915.08 L561.07,914.74 L559.47,914.40 L557.88,914.05 L556.29,913.69 L554.70,913.33 L553.12,912.96 L551.53,912.58 L549.95,912.20 L548.37,911.81 L546.79,911.41 L545.21,911.01 L543.63,910.59 L542.06,910.18 L540.48,909.75 L538.91,909.32 L537.34,908.88 L535.78,908.44 L534.22,907.97 L532.68,907.41 L531.18,906.75 L529.70,906.01 L528.26,905.19 L526.84,904.29 L525.44,903.32 L524.06,902.31 L522.71,901.26 L521.36,900.18 L520.03,899.09 L518.70,898.01 L517.37,896.94 L516.03,895.91 L514.68,894.92 L513.32,893.98 L511.94,893.10 L510.53,892.29 L509.10,891.57 L507.64,890.92 L506.15,890.34 L504.65,889.81 L503.13,889.31 L501.60,888.84 L500.05,888.41 L498.49,888.01 L496.91,887.63 L495.32,887.28 L493.72,886.95 L492.11,886.63 L490.49,886.33 L488.86,886.04 L487.23,885.76 L485.59,885.47 L483.95,885.18 L482.31,884.88 L480.67,884.57 L479.04,884.24 L477.41,883.89 L475.79,883.51 L474.19,883.10 L472.59,882.66 L471.01,882.18 L469.45,881.66 L467.91,881.11 L466.39,880.50 L464.89,879.86 L463.41,879.16 L461.96,878.42 L460.53,877.65 L459.10,876.87 L457.67,876.08 L456.25,875.29 L454.83,874.49 L453.41,873.69 L452.00,872.87 L450.59,872.06 L449.19,871.23 L447.78,870.40 L446.38,869.57 L444.99,868.72 L443.60,867.88 L442.21,867.02 L440.83,866.16 L439.45,865.29 L438.07,864.42 L436.70,863.54 L435.33,862.66 L433.97,861.77 L432.61,860.87 L431.25,859.97 L429.90,859.06 L428.56,858.13 L427.27,857.13 L426.04,856.04 L424.87,854.88 L423.75,853.65 L422.68,852.35 L421.65,851.01 L420.65,849.62 L419.68,848.20 L418.74,846.76 L417.81,845.31 L416.88,843.87 L415.94,842.45 L414.99,841.05 L414.01,839.69 L413.01,838.37 L411.97,837.11 L410.88,835.91 L409.74,834.78 L408.55,833.71 L407.31,832.70 L406.05,831.73 L404.76,830.78 L403.44,829.87 L402.11,828.98 L400.74,828.11 L399.36,827.27 L397.96,826.44 L396.54,825.63 L395.10,824.83 L393.66,824.05 L392.20,823.27 L390.73,822.49 L389.26,821.71 L387.79,820.93 L386.32,820.14 L384.86,819.34 L383.41,818.52 L381.97,817.68 L380.55,816.82 L379.15,815.94 L377.77,815.02 L376.42,814.08 L375.09,813.11 L373.80,812.10 L372.54,811.06 L371.31,809.98 L370.12,808.86 L368.97,807.71 L367.85,806.53 L366.73,805.35 L365.61,804.16 L364.50,802.96 L363.40,801.77 L362.30,800.56 L361.21,799.35 L360.12,798.14 L359.04,796.92 L357.96,795.70 L356.89,794.47 L355.83,793.24 L354.76,792.00 L353.71,790.76 L352.66,789.52 L351.61,788.27 L350.58,787.01 L349.54,785.75 L348.51,784.49 L347.49,783.22 L346.47,781.95 L345.46,780.67 L344.46,779.39 L343.47,778.09 L342.56,776.74 L341.72,775.33 L340.97,773.86 L340.28,772.34 L339.66,770.78 L339.10,769.18 L338.58,767.55 L338.10,765.90 L337.65,764.24 L337.21,762.57 L336.77,760.92 L336.32,759.27 L335.84,757.65 L335.34,756.05 L334.79,754.49 L334.19,752.97 L333.52,751.49 L332.79,750.06 L331.99,748.68 L331.13,747.34 L330.22,746.02 L329.29,744.72 L328.32,743.45 L327.32,742.19 L326.30,740.94 L325.24,739.71 L324.16,738.49 L323.06,737.28 L321.94,736.08 L320.81,734.89 L319.66,733.70 L318.51,732.50 L317.35,731.31 L316.20,730.11 L315.04,728.91 L313.90,727.69 L312.78,726.46 L311.67,725.22 L310.58,723.96 L309.52,722.69 L308.49,721.40 L307.49,720.08 L306.54,718.75 L305.62,717.39 L304.74,716.01 L303.91,714.60 L303.12,713.17 L302.38,711.72 L301.67,710.25 L300.98,708.78 L300.28,707.31 L299.60,705.83 L298.92,704.35 L298.25,702.86 L297.58,701.38 L296.92,699.89 L296.27,698.39 L295.62,696.90 L294.98,695.40 L294.35,693.90 L293.72,692.39 L293.10,690.89 L292.49,689.38 L291.88,687.87 L291.28,686.35 L290.69,684.83 L290.10,683.31 L289.52,681.79 L288.95,680.27 L288.38,678.74 L287.82,677.21 L287.28,675.67 L286.83,674.10 L286.48,672.50 L286.21,670.87 L286.03,669.22 L285.92,667.54 L285.88,665.84 L285.89,664.14 L285.94,662.42 L286.02,660.70 L286.12,658.98 L286.21,657.27 L286.29,655.56 L286.35,653.87 L286.36,652.20 L286.32,650.54 L286.21,648.91 L286.04,647.30 L285.79,645.71 L285.45,644.15 L285.04,642.61 L284.59,641.08 L284.10,639.56 L283.58,638.04 L283.02,636.53 L282.43,635.03 L281.81,633.54 L281.16,632.05 L280.48,630.56 L279.79,629.07 L279.08,627.58 L278.36,626.09 L277.63,624.60 L276.90,623.11 L276.17,621.61 L275.45,620.11 L274.74,618.60 L274.04,617.09 L273.37,615.56 L272.73,614.03 L272.11,612.49 L271.53,610.94 L270.99,609.39 L270.49,607.82 L270.04,606.24 L269.63,604.66 L269.27,603.06 L268.97,601.46 L268.71,599.85 L268.49,598.24 L268.29,596.62 L268.08,595.01 L267.89,593.39 L267.70,591.77 L267.52,590.15 L267.35,588.53 L267.18,586.91 L267.02,585.29 L266.87,583.67 L266.72,582.04 L266.58,580.42 L266.45,578.80 L266.33,577.17 L266.21,575.55 L266.10,573.92 L266.00,572.30 L265.90,570.67 L265.81,569.04 L265.73,567.42 L265.66,565.79 L265.59,564.16 L265.53,562.53 L265.49,560.90 L265.55,559.27 L265.71,557.64 L265.96,556.01 L266.29,554.38 L266.71,552.75 L267.19,551.12 L267.73,549.50 L268.31,547.88 L268.92,546.27 L269.54,544.67 L270.16,543.07 L270.77,541.47 L271.34,539.88 L271.87,538.29 L272.34,536.71 L272.75,535.12 L273.08,533.54 L273.33,531.95 L273.49,530.36 L273.58,528.77 L273.62,527.17 L273.63,525.57 L273.60,523.97 L273.53,522.36 L273.43,520.75 L273.30,519.14 L273.15,517.52 L272.97,515.89 L272.77,514.26 L272.55,512.63 L272.33,510.99 L272.09,509.35 L271.86,507.70 L271.63,506.05 L271.41,504.40 L271.20,502.75 L271.01,501.09 L270.84,499.44 L270.70,497.78 L270.59,496.13 L270.52,494.47 L270.48,492.83 L270.49,491.18 L270.55,489.54 L270.65,487.91 L270.80,486.28 L271.01,484.67 L271.26,483.06 L271.55,481.45 L271.85,479.85 L272.16,478.25 L272.47,476.65 L272.80,475.06 L273.12,473.46 L273.46,471.87 L273.80,470.27 L274.15,468.68 L274.51,467.09 L274.87,465.50 L275.24,463.92 L275.62,462.33 L276.00,460.75 L276.39,459.17 L276.79,457.59 L277.19,456.01 L277.61,454.43 L278.02,452.86 L278.45,451.28 L278.88,449.71 L279.32,448.14 L279.76,446.58 L280.23,445.02 L280.79,443.48 L281.45,441.98 L282.19,440.50 L283.01,439.06 L283.91,437.64 L284.88,436.24 L285.89,434.86 L286.94,433.51 L288.02,432.16 L289.11,430.83 L290.19,429.50 L291.26,428.17 L292.29,426.83 L293.28,425.48 L294.22,424.12 L295.10,422.74 L295.91,421.33 L296.63,419.90 L297.28,418.44 L297.86,416.95 L298.39,415.45 L298.89,413.93 L299.36,412.40 L299.79,410.85 L300.19,409.29 L300.57,407.71 L300.92,406.12 L301.25,404.52 L301.57,402.91 L301.87,401.29 L302.16,399.66 L302.44,398.03 L302.73,396.39 L303.02,394.75 L303.32,393.11 L303.63,391.47 L303.96,389.84 L304.31,388.21 L304.69,386.59 L305.10,384.99 L305.54,383.39 L306.02,381.81 L306.54,380.25 L307.09,378.71 L307.70,377.19 L308.34,375.69 L309.04,374.21 L309.78,372.76 L310.55,371.33 L311.33,369.90 L312.12,368.47 L312.91,367.05 L313.71,365.63 L314.51,364.21 L315.33,362.80 L316.14,361.39 L316.97,359.99 L317.80,358.58 L318.63,357.18 L319.48,355.79 L320.32,354.40 L321.18,353.01 L322.04,351.63 L322.91,350.25 L323.78,348.87 L324.66,347.50 L325.54,346.13 L326.43,344.77 L327.33,343.41 L328.23,342.05 L329.14,340.70 L330.07,339.36 L331.07,338.07 L332.16,336.84 L333.32,335.67 L334.55,334.55 L335.85,333.48 L337.19,332.45 L338.58,331.45 L340.00,330.48 L341.44,329.54 L342.89,328.61 L344.33,327.68 L345.75,326.74 L347.15,325.79 L348.51,324.81 L349.83,323.81 L351.09,322.77 L352.29,321.68 L353.42,320.54 L354.49,319.35 L355.50,318.11 L356.47,316.85 L357.42,315.56 L358.33,314.24 L359.22,312.91 L360.09,311.54 L360.93,310.16 L361.76,308.76 L362.57,307.34 L363.37,305.90 L364.15,304.46 L364.93,303.00 L365.71,301.53 L366.49,300.06 L367.27,298.59 L368.06,297.12 L368.86,295.66 L369.68,294.21 L370.52,292.77 L371.38,291.35 L372.26,289.95 L373.18,288.57 L374.12,287.22 L375.09,285.89 L376.10,284.60 L377.14,283.34 L378.22,282.11 L379.34,280.92 L380.49,279.77 L381.67,278.65 L382.85,277.53 L384.04,276.41 L385.24,275.30 L386.43,274.20 L387.64,273.10 L388.85,272.01 L390.06,270.92 L391.28,269.84 L392.50,268.76 L393.73,267.69 L394.96,266.63 L396.20,265.56 L397.44,264.51 L398.68,263.46 L399.93,262.41 L401.19,261.38 L402.45,260.34 L403.71,259.31 L404.98,258.29 L406.25,257.27 L407.53,256.26 L408.81,255.26 L410.11,254.27 L411.46,253.36 L412.87,252.52 L414.34,251.77 L415.86,251.08 L417.42,250.46 L419.02,249.90 L420.65,249.38 L422.30,248.90 L423.96,248.45 L425.63,248.01 L427.28,247.57 L428.93,247.12 L430.55,246.64 L432.15,246.14 L433.71,245.59 L435.23,244.99 L436.71,244.32 L438.14,243.59 L439.52,242.79 L440.86,241.93 L442.18,241.02 L443.48,240.09 L444.75,239.12 L446.01,238.12 L447.26,237.10 L448.49,236.04 L449.71,234.96 L450.92,233.86 L452.12,232.74 L453.31,231.61 L454.50,230.46 L455.70,229.31 L456.89,228.15 L458.09,227.00 L459.29,225.84 L460.51,224.70 L461.74,223.58 L462.98,222.47 L464.24,221.38 L465.51,220.32 L466.80,219.29 L468.12,218.29 L469.45,217.34 L470.81,216.42 L472.19,215.54 L473.60,214.71 L475.03,213.92 L476.48,213.18 L477.95,212.47 L479.42,211.78 L480.89,211.08 L482.37,210.40 L483.85,209.72 L485.34,209.05 L486.82,208.38 L488.31,207.72 L489.81,207.07 L491.30,206.42 L492.80,205.78 L494.30,205.15 L495.81,204.52 L497.31,203.90 L498.82,203.29 L500.33,202.68 L501.85,202.08 L503.37,201.49 L504.89,200.90 L506.41,200.32 L507.93,199.75 L509.46,199.18 L510.99,198.62 L512.53,198.08 L514.10,197.63 L515.70,197.28 L517.33,197.01 L518.98,196.83 L520.66,196.72 L522.36,196.68 L524.06,196.69 L525.78,196.74 L527.50,196.82 L529.22,196.92 L530.93,197.01 L532.64,197.09 L534.33,197.15 L536.00,197.16 L537.66,197.12 L539.29,197.01 L540.90,196.84 L542.49,196.59 L544.05,196.25 L545.59,195.84 L547.12,195.39 L548.64,194.90 L550.16,194.38 L551.67,193.82 L553.17,193.23 L554.66,192.61 L556.15,191.96 L557.64,191.28 L559.13,190.59 L560.62,189.88 L562.11,189.16 L563.60,188.43 L565.09,187.70 L566.59,186.97 L568.09,186.25 L569.60,185.54 L571.11,184.84 L572.64,184.17 L574.17,183.53 L575.71,182.91 L577.26,182.33 L578.81,181.79 L580.38,181.29 L581.96,180.84 L583.54,180.43 L585.14,180.07 L586.74,179.77 L588.35,179.51 L589.96,179.29 L591.58,179.09 L593.19,178.88 L594.81,178.69 L596.43,178.50 L598.05,178.32 L599.67,178.15 L601.29,177.98 L602.91,177.82 L604.53,177.67 L606.16,177.52 L607.78,177.38 L609.40,177.25 L611.03,177.13 L612.65,177.01 L614.28,176.90 L615.90,176.80 L617.53,176.70 L619.16,176.61 L620.78,176.53 L622.41,176.46 L624.04,176.39 L625.67,176.33 L627.30,176.29 L628.93,176.35 L630.56,176.51 L632.19,176.76 L633.82,177.09 L635.45,177.51 L637.08,177.99 L638.70,178.53 Z" stroke-width="3.8" />
<line x1="262.40" y1="96.00" x2="262.40" y2="329.00" stroke-width="4.2" />
<line x1="262.40" y1="367.50" x2="262.40" y2="545.00" stroke-width="4.2" />
<line x1="1017.30" y1="96.00" x2="1017.30" y2="160.20" stroke-width="4.2" />
<line x1="1017.30" y1="181.50" x2="1017.30" y2="502.50" stroke-width="4.2" />
<line x1="300.00" y1="110.00" x2="980.00" y2="110.00" stroke-width="4.2" />
<polygon points="264.00,110.00 310.00,101.50 310.00,118.50" fill="#000" stroke="none"/>
<polygon points="1015.50,110.00 969.50,118.50 969.50,101.50" fill="#000" stroke="none"/>
<text x="0" y="0" font-size="43" text-anchor="middle" transform="translate(639.50 102.00) scale(1 1.11)" fill="#000" stroke="#fff" stroke-width="0.45" >100</text>
<line x1="655.00" y1="171.30" x2="1095.00" y2="171.30" stroke-width="4.2" />
<line x1="1079.30" y1="210.00" x2="1079.30" y2="1275.00" stroke-width="4.2" />
<polygon points="1079.30,173.50 1087.80,219.50 1070.80,219.50" fill="#000" stroke="none"/>
<polygon points="1079.30,1313.00 1070.80,1267.00 1087.80,1267.00" fill="#000" stroke="none"/>
<text x="0" y="0" font-size="43" text-anchor="middle" transform="translate(1070.50 743.00) rotate(-90) scale(1 1.11)" fill="#000" stroke="#fff" stroke-width="0.45" >153</text>
<line x1="736.00" y1="1317.30" x2="1109.00" y2="1317.30" stroke-width="4.2" />
<line x1="784.00" y1="1189.60" x2="975.00" y2="1189.60" stroke-width="4.2" />
<line x1="959.00" y1="1230.00" x2="959.00" y2="1275.00" stroke-width="4.2" />
<polygon points="959.00,1192.00 967.50,1238.00 950.50,1238.00" fill="#000" stroke="none"/>
<polygon points="959.00,1313.00 950.50,1267.00 967.50,1267.00" fill="#000" stroke="none"/>
<text x="0" y="0" font-size="43" text-anchor="middle" transform="translate(942.50 1259.00) rotate(-90) scale(1 1.11)" fill="#000" stroke="#fff" stroke-width="0.45" >16,8</text>
<line x1="513.60" y1="1266.00" x2="513.60" y2="1396.00" stroke-width="4.2" />
<line x1="765.00" y1="1266.00" x2="765.00" y2="1306.00" stroke-width="4.2" />
<line x1="765.00" y1="1326.00" x2="765.00" y2="1396.00" stroke-width="4.2" />
<line x1="555.00" y1="1381.00" x2="725.00" y2="1381.00" stroke-width="4.2" />
<polygon points="515.50,1381.00 562.50,1372.50 562.50,1389.50" fill="#000" stroke="none"/>
<polygon points="763.00,1381.00 716.00,1389.50 716.00,1372.50" fill="#000" stroke="none"/>
<text x="0" y="0" font-size="43" text-anchor="middle" transform="translate(636.00 1372.00) scale(1 1.11)" fill="#000" stroke="#fff" stroke-width="0.45" >G1</text>
<circle cx="191.00" cy="244.00" r="30.70" stroke-width="4.2" />
<text x="0" y="0" font-size="43" text-anchor="middle" transform="translate(190.50 260.50) scale(1 1.11)" fill="#000" stroke="#fff" stroke-width="0.45" >1</text>
<circle cx="376.70" cy="1050.70" r="30.70" stroke-width="4.2" />
<text x="0" y="0" font-size="43" text-anchor="middle" transform="translate(376.20 1067.20) scale(1 1.11)" fill="#000" stroke="#fff" stroke-width="0.45" >2</text>
<circle cx="415.80" cy="1117.60" r="30.70" stroke-width="4.2" />
<text x="0" y="0" font-size="43" text-anchor="middle" transform="translate(415.30 1134.10) scale(1 1.11)" fill="#000" stroke="#fff" stroke-width="0.45" >3</text>
<line x1="216.00" y1="280.00" x2="377.50" y2="528.75" stroke-width="4.2" />
<line x1="402.30" y1="1015.30" x2="553.75" y2="777.50" stroke-width="4.2" />
<line x1="441.40" y1="1082.30" x2="595.00" y2="843.75" stroke-width="4.2" />
<line x1="401.50" y1="1267.00" x2="550.40" y2="1038.60" stroke-width="4.2" />
<path d="M325.6,1306.6 L338.7,1284 L334.2,1271.5 L337.7,1258.4 L346.2,1250.4 L360.3,1246.8 L347.2,1269 L363.3,1279 L375.4,1255.9 L380.4,1269.4 L377.4,1280.5 L368.3,1290.6 L354.8,1293.6 L348.2,1306.1" stroke-width="4" stroke-linejoin="miter"/>
<text x="0" y="0" font-size="43" text-anchor="start" transform="translate(383.00 1305.60) scale(1 1.11)" fill="#000" stroke="#fff" stroke-width="0.45" >24</text>
<rect x="532.5" y="748.75" width="210" height="62.25" rx="4" stroke-width="4.2"/>
<rect x="549.50" y="752.75" width="8.5" height="8.2" stroke-width="3.2"/>
<rect x="573.60" y="752.75" width="8.5" height="8.2" stroke-width="3.2"/>
<rect x="597.70" y="752.75" width="8.5" height="8.2" stroke-width="3.2"/>
<rect x="621.80" y="752.75" width="8.5" height="8.2" stroke-width="3.2"/>
<rect x="645.90" y="752.75" width="8.5" height="8.2" stroke-width="3.2"/>
<rect x="670.00" y="752.75" width="8.5" height="8.2" stroke-width="3.2"/>
<rect x="694.10" y="752.75" width="8.5" height="8.2" stroke-width="3.2"/>
<rect x="718.20" y="752.75" width="8.5" height="8.2" stroke-width="3.2"/>
<circle cx="603.75" cy="842.50" r="18.50" stroke-width="4.2" />
<circle cx="671.25" cy="842.50" r="18.50" stroke-width="4.2" />
<path d="M565.00,920 L565.00,958 C565.00,985 539.75,985 539.75,1012 L539.75,1072 C539.75,1086 532.25,1088 532.25,1102 L532.25,1140 C532.25,1150 530.75,1157 520.75,1157.3" stroke-width="6.3" />
<path d="M524.75,1157.3 L496.75,1157.3 L496.75,1188.7 L638.75,1188.7" stroke-width="7.0" stroke-linejoin="miter"/>
<line x1="526.75" y1="1188.70" x2="526.75" y2="1222.00" stroke-width="7.0" />
<line x1="526.75" y1="1262.00" x2="526.75" y2="1306.50" stroke-width="7.0" />
<path d="M526.75,1207.5 L514.75,1220.5 L514.75,1264.5 L526.75,1277.5" stroke-width="6.5" stroke-linejoin="miter"/>
<polygon points="526.75,1207.5 514.75,1220.5 526.75,1222" fill="#000" stroke="none"/>
<polygon points="526.75,1277.5 514.75,1264.5 526.75,1262" fill="#000" stroke="none"/>
<line x1="528.55" y1="1221.00" x2="528.55" y2="1263.00" stroke-width="3.6" />
<path d="M712.50,920 L712.50,958 C712.50,985 737.75,985 737.75,1012 L737.75,1072 C737.75,1086 745.25,1088 745.25,1102 L745.25,1140 C745.25,1150 746.75,1157 756.75,1157.3" stroke-width="6.3" />
<path d="M752.75,1157.3 L780.75,1157.3 L780.75,1188.7 L638.75,1188.7" stroke-width="7.0" stroke-linejoin="miter"/>
<line x1="750.75" y1="1188.70" x2="750.75" y2="1222.00" stroke-width="7.0" />
<line x1="750.75" y1="1262.00" x2="750.75" y2="1306.50" stroke-width="7.0" />
<path d="M750.75,1207.5 L762.75,1220.5 L762.75,1264.5 L750.75,1277.5" stroke-width="6.5" stroke-linejoin="miter"/>
<polygon points="750.75,1207.5 762.75,1220.5 750.75,1222" fill="#000" stroke="none"/>
<polygon points="750.75,1277.5 762.75,1264.5 750.75,1262" fill="#000" stroke="none"/>
<line x1="748.95" y1="1221.00" x2="748.95" y2="1263.00" stroke-width="3.6" />
<line x1="526.75" y1="1158.60" x2="750.75" y2="1158.60" stroke-width="3.6" />
<line x1="523.25" y1="1302.80" x2="754.25" y2="1302.80" stroke-width="7.0" />
<line x1="539.75" y1="1082.00" x2="737.75" y2="1082.00" stroke-width="4.2" />
<line x1="532.25" y1="1099.00" x2="745.25" y2="1099.00" stroke-width="4.2" />
<line x1="532.25" y1="1134.00" x2="745.25" y2="1134.00" stroke-width="4.2" />
<line x1="526.75" y1="1209.60" x2="750.75" y2="1209.60" stroke-width="4.2" />
<line x1="514.75" y1="1221.20" x2="762.75" y2="1221.20" stroke-width="4.2" />
<line x1="514.75" y1="1262.70" x2="762.75" y2="1262.70" stroke-width="4.2" />
<line x1="526.75" y1="1274.20" x2="750.75" y2="1274.20" stroke-width="4.2" />
<path d="M541.75,1303 L541.75,1315 Q541.75,1319 545.75,1319 L731.75,1319 Q735.75,1319 735.75,1315 L735.75,1303 Z" fill="#b4b4b4" stroke-width="3.4"/>
<rect x="542.75" y="1310.6" width="192" height="8" fill="#2e2e2e" stroke="none"/>
<line x1="599.75" y1="1012.00" x2="599.75" y2="1082.00" stroke-width="3.8" />
<line x1="579.25" y1="1012.00" x2="579.25" y2="1082.00" stroke-width="3.8" />
<line x1="599.75" y1="1011.00" x2="579.25" y2="1011.00" stroke-width="3.8" />
<path d="M551.75,988 Q570.75,978 586.75,995 Q595.75,1003 598.25,1011" stroke-width="3.8" />
<path d="M543.75,1005 Q560.75,992 574.75,1003 Q579.25,1007 579.25,1014" stroke-width="3.8" />
<path d="M543.75,1079 C549.75,1070 555.75,1064 560.75,1064 C565.75,1064 572.75,1070 579.25,1081" stroke-width="3.8" />
<line x1="544.25" y1="1010.00" x2="544.25" y2="1078.00" stroke-width="3" />
<path d="M588.75,1083 Q584.75,1090 583.75,1098" stroke-width="2.2" />
<path d="M593.25,1083 Q589.25,1090 588.25,1098" stroke-width="2.2" />
<line x1="677.75" y1="1012.00" x2="677.75" y2="1082.00" stroke-width="3.8" />
<line x1="698.25" y1="1012.00" x2="698.25" y2="1082.00" stroke-width="3.8" />
<line x1="677.75" y1="1011.00" x2="698.25" y2="1011.00" stroke-width="3.8" />
<path d="M725.75,988 Q706.75,978 690.75,995 Q681.75,1003 679.25,1011" stroke-width="3.8" />
<path d="M733.75,1005 Q716.75,992 702.75,1003 Q698.25,1007 698.25,1014" stroke-width="3.8" />
<path d="M733.75,1079 C727.75,1070 721.75,1064 716.75,1064 C711.75,1064 704.75,1070 698.25,1081" stroke-width="3.8" />
<line x1="733.25" y1="1010.00" x2="733.25" y2="1078.00" stroke-width="3" />
<path d="M688.75,1083 Q692.75,1090 693.75,1098" stroke-width="2.2" />
<path d="M684.25,1083 Q688.25,1090 689.25,1098" stroke-width="2.2" />
<path d="M581.75,1011 Q598.75,983 638.75,982.5 Q678.75,983 695.75,1011" stroke-width="3.8" />
<path d="M599.75,1012 Q618.75,999 638.75,998.5 Q658.75,999 677.75,1012" stroke-width="3.8" />
<path d="M599.75,1081 Q626.75,1062 638.75,1062 Q650.75,1062 677.75,1081" stroke-width="3.8" />
<path d="M1520.55,890 L1520.55,958 C1520.55,985 1495.30,985 1495.30,1012 L1495.30,1072 C1495.30,1086 1487.80,1088 1487.80,1102 L1487.80,1140 C1487.80,1150 1486.30,1157 1476.30,1157.3" stroke-width="6.3" />
<path d="M1480.30,1157.3 L1452.30,1157.3 L1452.30,1188.7 L1594.30,1188.7" stroke-width="7.0" stroke-linejoin="miter"/>
<line x1="1482.30" y1="1188.70" x2="1482.30" y2="1222.00" stroke-width="7.0" />
<line x1="1482.30" y1="1262.00" x2="1482.30" y2="1306.50" stroke-width="7.0" />
<path d="M1482.30,1207.5 L1470.30,1220.5 L1470.30,1264.5 L1482.30,1277.5" stroke-width="6.5" stroke-linejoin="miter"/>
<polygon points="1482.30,1207.5 1470.30,1220.5 1482.30,1222" fill="#000" stroke="none"/>
<polygon points="1482.30,1277.5 1470.30,1264.5 1482.30,1262" fill="#000" stroke="none"/>
<line x1="1484.10" y1="1221.00" x2="1484.10" y2="1263.00" stroke-width="3.6" />
<path d="M1668.05,890 L1668.05,958 C1668.05,985 1693.30,985 1693.30,1012 L1693.30,1072 C1693.30,1086 1700.80,1088 1700.80,1102 L1700.80,1140 C1700.80,1150 1702.30,1157 1712.30,1157.3" stroke-width="6.3" />
<path d="M1708.30,1157.3 L1736.30,1157.3 L1736.30,1188.7 L1594.30,1188.7" stroke-width="7.0" stroke-linejoin="miter"/>
<line x1="1706.30" y1="1188.70" x2="1706.30" y2="1222.00" stroke-width="7.0" />
<line x1="1706.30" y1="1262.00" x2="1706.30" y2="1306.50" stroke-width="7.0" />
<path d="M1706.30,1207.5 L1718.30,1220.5 L1718.30,1264.5 L1706.30,1277.5" stroke-width="6.5" stroke-linejoin="miter"/>
<polygon points="1706.30,1207.5 1718.30,1220.5 1706.30,1222" fill="#000" stroke="none"/>
<polygon points="1706.30,1277.5 1718.30,1264.5 1706.30,1262" fill="#000" stroke="none"/>
<line x1="1704.50" y1="1221.00" x2="1704.50" y2="1263.00" stroke-width="3.6" />
<line x1="1482.30" y1="1158.60" x2="1706.30" y2="1158.60" stroke-width="3.6" />
<line x1="1478.80" y1="1302.80" x2="1709.80" y2="1302.80" stroke-width="7.0" />
<line x1="1495.30" y1="1082.00" x2="1693.30" y2="1082.00" stroke-width="4.2" />
<line x1="1487.80" y1="1099.00" x2="1700.80" y2="1099.00" stroke-width="4.2" />
<line x1="1487.80" y1="1134.00" x2="1700.80" y2="1134.00" stroke-width="4.2" />
<line x1="1482.30" y1="1209.60" x2="1706.30" y2="1209.60" stroke-width="4.2" />
<line x1="1470.30" y1="1221.20" x2="1718.30" y2="1221.20" stroke-width="4.2" />
<line x1="1470.30" y1="1262.70" x2="1718.30" y2="1262.70" stroke-width="4.2" />
<line x1="1482.30" y1="1274.20" x2="1706.30" y2="1274.20" stroke-width="4.2" />
<path d="M1497.30,1303 L1497.30,1315 Q1497.30,1319 1501.30,1319 L1687.30,1319 Q1691.30,1319 1691.30,1315 L1691.30,1303 Z" fill="#b4b4b4" stroke-width="3.4"/>
<rect x="1498.30" y="1310.6" width="192" height="8" fill="#2e2e2e" stroke="none"/>
<line x1="1240.00" y1="1317.30" x2="1497.00" y2="1317.30" stroke-width="4.2" />
<line x1="1514.30" y1="1012.00" x2="1514.30" y2="1082.00" stroke-width="3.8" />
<line x1="1504.30" y1="1012.00" x2="1504.30" y2="1082.00" stroke-width="3.8" />
<line x1="1582.80" y1="1011.00" x2="1582.80" y2="1080.00" stroke-width="3.8" />
<line x1="1499.30" y1="1008.00" x2="1499.30" y2="1078.00" stroke-width="3" />
<path d="M1508.30,1002 Q1510.30,994 1522.30,989 Q1552.30,977 1582.30,989 Q1598.30,996 1605.80,1010" stroke-width="3.8" />
<path d="M1514.30,1011 Q1548.30,985 1582.80,1011" stroke-width="3.8" />
<path d="M1514.30,1081 Q1548.30,1045 1582.80,1079" stroke-width="3.8" />
<path d="M1506.30,1083 Q1502.30,1090 1501.30,1098" stroke-width="2.4" />
<path d="M1512.30,1083 Q1508.30,1090 1507.30,1098" stroke-width="2.4" />
<line x1="1514.30" y1="1011.00" x2="1504.30" y2="1011.00" stroke-width="3.8" />
<line x1="1674.30" y1="1012.00" x2="1674.30" y2="1082.00" stroke-width="3.8" />
<line x1="1684.30" y1="1012.00" x2="1684.30" y2="1082.00" stroke-width="3.8" />
<line x1="1605.80" y1="1011.00" x2="1605.80" y2="1080.00" stroke-width="3.8" />
<line x1="1689.30" y1="1008.00" x2="1689.30" y2="1078.00" stroke-width="3" />
<path d="M1680.30,1002 Q1678.30,994 1666.30,989 Q1636.30,977 1606.30,989 Q1590.30,996 1582.80,1010" stroke-width="3.8" />
<path d="M1674.30,1011 Q1640.30,985 1605.80,1011" stroke-width="3.8" />
<path d="M1674.30,1081 Q1640.30,1045 1605.80,1079" stroke-width="3.8" />
<path d="M1682.30,1083 Q1686.30,1090 1687.30,1098" stroke-width="2.4" />
<path d="M1676.30,1083 Q1680.30,1090 1681.30,1098" stroke-width="2.4" />
<line x1="1674.30" y1="1011.00" x2="1684.30" y2="1011.00" stroke-width="3.8" />
<line x1="1582.80" y1="1010.50" x2="1605.80" y2="1010.50" stroke-width="3.8" />
<line x1="1591.30" y1="1083.00" x2="1591.30" y2="1098.00" stroke-width="2.4" />
<line x1="1597.30" y1="1083.00" x2="1597.30" y2="1098.00" stroke-width="2.4" />
<path d="M1582.80,1079 L1594.30,1083 L1605.80,1079" stroke-width="3.8" />
<path d="M1513.75,873.75 L1513.75,226 A14,14 0 0 1 1527.75,212 L1729,212 L1729,177.8 L1819.6,177.8 A16,16 0 0 1 1835.6,193.8 L1835.6,912 A16,16 0 0 1 1819.6,928 L1729,928 L1729,884 L1706,884 L1694,873.75 Z" stroke-width="7.0" stroke-linejoin="miter"/>
<line x1="1730.80" y1="212.00" x2="1730.80" y2="884.00" stroke-width="4" />
<line x1="1837.80" y1="94.00" x2="1837.80" y2="309.00" stroke-width="4.2" />
<line x1="1410.40" y1="94.00" x2="1410.40" y2="271.00" stroke-width="4.2" />
<line x1="1455.00" y1="109.60" x2="1795.00" y2="109.60" stroke-width="4.2" />
<polygon points="1412.50,109.60 1459.50,101.10 1459.50,118.10" fill="#000" stroke="none"/>
<polygon points="1835.00,109.60 1788.00,118.10 1788.00,101.10" fill="#000" stroke="none"/>
<text x="0" y="0" font-size="43" text-anchor="middle" transform="translate(1618.00 99.50) scale(1 1.11)" fill="#000" stroke="#fff" stroke-width="0.45" >57</text>
<path d="M1828.5,181 C1786.50,183.00 1789.50,213.00 1833.5,216" stroke-width="3.8" />
<path d="M1833.5,224 Q1761.50,252.00 1833.5,280" stroke-width="3.8" />
<path d="M1833.5,299 Q1761.50,338.75 1833.5,378.5" stroke-width="3.8" />
<path d="M1833.5,400 Q1761.50,439.85 1833.5,479.7" stroke-width="3.8" />
<path d="M1833.5,505.6 Q1761.50,549.50 1833.5,593.4" stroke-width="3.8" />
<path d="M1833.5,619.3 Q1761.50,658.65 1833.5,698" stroke-width="3.8" />
<path d="M1833.5,721 Q1761.50,760.00 1833.5,799" stroke-width="3.8" />
<path d="M1833.5,819 Q1761.50,847.50 1833.5,876" stroke-width="3.8" />
<path d="M1833.5,886 C1789.50,889.00 1786.50,923.00 1828.5,925" stroke-width="3.8" />
<path d="M1432,284.7 L1411,284.7 L1411,345 L1432,345" stroke-width="7.0" stroke-linejoin="miter"/>
<path d="M1422.5,283 L1432.5,272.5 L1464,272.5 L1474.5,283.5" stroke-width="7.0" stroke-linejoin="miter"/>
<path d="M1422.5,346 L1432.5,356.4 L1464,356.4 L1474.5,345.5" stroke-width="7.0" stroke-linejoin="miter"/>
<line x1="1472.30" y1="283.00" x2="1472.30" y2="346.00" stroke-width="4" />
<line x1="1434.50" y1="272.50" x2="1434.50" y2="356.40" stroke-width="7.0" />
<line x1="1474.00" y1="284.70" x2="1513.00" y2="284.70" stroke-width="7.0" />
<line x1="1474.00" y1="344.50" x2="1513.00" y2="344.50" stroke-width="7.0" />
<line x1="1421.30" y1="286.00" x2="1421.30" y2="344.00" stroke-width="3" />
<line x1="1427.50" y1="284.00" x2="1427.50" y2="346.00" stroke-width="3" />
<line x1="1462.80" y1="274.00" x2="1462.80" y2="355.00" stroke-width="3.4" />
<line x1="1436.00" y1="278.50" x2="1462.00" y2="278.50" stroke-width="3.2" />
<line x1="1436.00" y1="350.30" x2="1462.00" y2="350.30" stroke-width="3.2" />
<line x1="1397.70" y1="314.50" x2="1523.00" y2="314.50" stroke-width="3.6" stroke-dasharray="36 6 4 6"/>
<line x1="1396.80" y1="270.80" x2="1430.00" y2="270.80" stroke-width="3.6" />
<line x1="1396.80" y1="357.60" x2="1430.00" y2="357.60" stroke-width="3.6" />
<line x1="1347.70" y1="197.00" x2="1347.70" y2="235.00" stroke-width="4.2" />
<line x1="1347.70" y1="395.00" x2="1347.70" y2="432.00" stroke-width="4.2" />
<polygon points="1347.70,269.50 1339.20,225.50 1356.20,225.50" fill="#000" stroke="none"/>
<polygon points="1347.70,359.00 1356.20,403.00 1339.20,403.00" fill="#000" stroke="none"/>
<line x1="1332.60" y1="270.80" x2="1349.70" y2="270.80" stroke-width="3.6" />
<line x1="1332.60" y1="357.60" x2="1349.70" y2="357.60" stroke-width="3.6" />
<text x="0" y="0" font-size="43" text-anchor="middle" transform="translate(1388.30 315.00) rotate(-90) scale(1 1.11)" fill="#000" stroke="#fff" stroke-width="0.45" >M12x1</text>
<path d="M1492,753.75 L1446,753.75 A17,17 0 0 0 1429,770.75 L1429,813 A17,17 0 0 0 1446,830 L1492,830" stroke-width="6.5" />
<ellipse cx="1460" cy="768.75" rx="6.3" ry="3.8" stroke-width="3"/>
<ellipse cx="1460" cy="792.5" rx="5.8" ry="5.2" stroke-width="3"/>
<ellipse cx="1460" cy="817.5" rx="6.3" ry="3.8" stroke-width="3"/>
<path d="M1513.75,690 C1510,710 1492.5,725 1492.5,748 L1492.5,852 C1492.5,866 1500,868 1514,872" stroke-width="6" />
<line x1="1508.75" y1="705.00" x2="1508.75" y2="870.00" stroke-width="3" />
<path d="M1505,873 L1505,890 L1521,890" stroke-width="7.0" stroke-linejoin="miter"/>
<path d="M1677.5,877 L1677.5,890 L1667,890" stroke-width="7.0" stroke-linejoin="miter"/>
<line x1="1508.00" y1="886.00" x2="1675.00" y2="886.00" stroke-width="3" />
<line x1="1240.00" y1="872.00" x2="1504.00" y2="872.00" stroke-width="4.2" />
<line x1="1255.60" y1="915.00" x2="1255.60" y2="1275.00" stroke-width="4.2" />
<polygon points="1255.60,875.00 1264.10,921.00 1247.10,921.00" fill="#000" stroke="none"/>
<polygon points="1255.60,1313.00 1247.10,1267.00 1264.10,1267.00" fill="#000" stroke="none"/>
<text x="0" y="0" font-size="43" text-anchor="middle" transform="translate(1245.00 1111.50) rotate(-90) scale(1 1.11)" fill="#000" stroke="#fff" stroke-width="0.45" >60,5</text>
</svg>
</body></html>
